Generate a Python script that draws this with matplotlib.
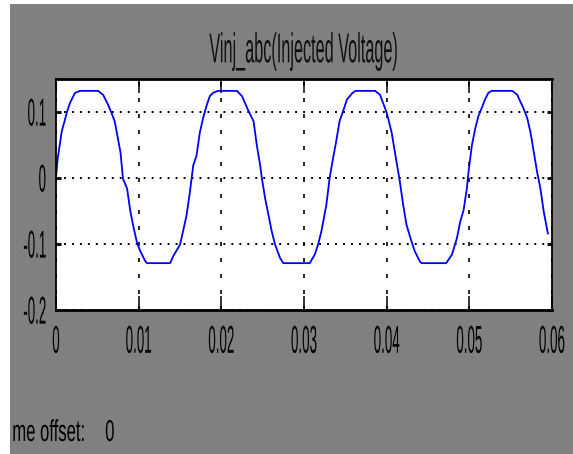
import matplotlib
matplotlib.use('Agg')
import matplotlib.pyplot as plt
from matplotlib import patheffects
from matplotlib.patches import Rectangle
from matplotlib.transforms import Affine2D

# Scope trace (time in s, voltage)
t = [0.0, 0.0002, 0.0007, 0.0011, 0.0013, 0.0017, 0.0023, 0.0029, 0.0051, 0.0057,
     0.0063, 0.0067, 0.0071, 0.0075, 0.0078, 0.0081, 0.0086, 0.0090, 0.0094, 0.0098,
     0.0102, 0.0108, 0.0110, 0.0138,
     0.0142, 0.0150, 0.0154, 0.0158, 0.0162, 0.0164, 0.0166, 0.0170, 0.0174, 0.0178,
     0.0182, 0.0186, 0.0190, 0.0196, 0.0219, 0.0225, 0.0233, 0.0239, 0.0243, 0.0247,
     0.0249, 0.0253, 0.0257, 0.0261, 0.0265, 0.0271, 0.0275, 0.0307,
     0.0313, 0.0317, 0.0321, 0.0327, 0.0331, 0.0335, 0.0339, 0.0343, 0.0348, 0.0352,
     0.0358, 0.0362, 0.0386, 0.0392, 0.0400, 0.0406, 0.0412, 0.0416, 0.0420, 0.0424,
     0.0430, 0.0434, 0.0440, 0.0442, 0.0472,
     0.0479, 0.0485, 0.0489, 0.0493, 0.0497, 0.0499, 0.0503, 0.0507, 0.0511, 0.0515,
     0.0519, 0.0523, 0.0527, 0.0552, 0.0558, 0.0566, 0.0570, 0.0574, 0.0578, 0.0582,
     0.0586, 0.0590, 0.0595]
v = [0.0, 0.029, 0.071, 0.089, 0.099, 0.114, 0.129, 0.132, 0.132, 0.126,
     0.111, 0.099, 0.086, 0.059, 0.039, -0.001, -0.016, -0.051, -0.076, -0.098,
     -0.111, -0.126, -0.129, -0.129,
     -0.118, -0.101, -0.079, -0.056, -0.021, -0.001, 0.019, 0.034, 0.069, 0.091,
     0.109, 0.124, 0.129, 0.132, 0.132, 0.124, 0.101, 0.086, 0.049, 0.019,
     0.0, -0.031, -0.056, -0.081, -0.101, -0.121, -0.129, -0.129,
     -0.116, -0.101, -0.081, -0.041, 0.0, 0.029, 0.056, 0.086, 0.104, 0.119,
     0.128, 0.132, 0.132, 0.126, 0.099, 0.069, 0.024, -0.006, -0.041, -0.071,
     -0.096, -0.111, -0.126, -0.129, -0.129,
     -0.116, -0.091, -0.066, -0.049, -0.016, 0.009, 0.049, 0.074, 0.094, 0.106,
     0.119, 0.129, 0.132, 0.132, 0.126, 0.104, 0.091, 0.069, 0.039, 0.009,
     -0.016, -0.051, -0.084]

xticks = [0, 0.01, 0.02, 0.03, 0.04, 0.05, 0.06]
xlabels = ['0', '0.01', '0.02', '0.03', '0.04', '0.05', '0.06']
yticks = [-0.2, -0.1, 0, 0.1]
ylabels = ['-0.2', '-0.1', '0', '0.1']
title = 'Vinj_abc(Injected Voltage)'
offset_label = 'me offset:'
offset_value = '0'

GRAY = '#808080'
plt.rcParams['font.family'] = ['Liberation Sans', 'DejaVu Sans']


class Stretch(patheffects.AbstractPathEffect):
    """Squeeze/stretch glyphs like the old screenshot (tall, narrow text)."""

    def __init__(self, sx=0.82, sy=2.0, hx='left', vy='baseline'):
        super().__init__()
        self.sx, self.sy, self.hx, self.vy = sx, sy, hx, vy

    def draw_path(self, renderer, gc, tpath, affine, rgbFace=None):
        ext = tpath.get_extents()
        x0 = {'left': ext.x0, 'center': (ext.x0 + ext.x1) / 2, 'right': ext.x1}[self.hx]
        y0 = {'baseline': 0.0, 'center': (ext.y0 + ext.y1) / 2, 'top': ext.y1}[self.vy]
        pre = Affine2D().translate(-x0, -y0).scale(self.sx, self.sy).translate(x0, y0)
        renderer.draw_path(gc, tpath, pre + affine, rgbFace)


fig = plt.figure(figsize=(5.73, 4.54), dpi=100, facecolor='white')
fig.add_artist(Rectangle((10 / 573, 0), 1, 1 - 4 / 454, transform=fig.transFigure,
                         facecolor=GRAY, edgecolor='none', zorder=-10))

ax = fig.add_axes([56 / 573, 1 - 310 / 454, 496 / 573, 231 / 454])
ax.set_facecolor('white')
ax.plot(t, v, color='#0000ff', lw=1.3)

ax.set_xlim(0, 0.06)
ax.set_ylim(-0.2, 0.15)
ax.set_xticks(xticks)
ax.set_xticklabels(xlabels)
ax.set_yticks(yticks)
ax.set_yticklabels(ylabels)

ax.tick_params(axis='x', direction='in', length=10, width=1.1, top=True,
               labelsize=13, pad=11, colors='black')
ax.tick_params(axis='y', direction='in', length=3.6, width=2, right=True,
               labelsize=13, pad=7, colors='black')

ax.xaxis.grid(True, color='black', linestyle=(0, (2.4, 7.2)), linewidth=1.2)
ax.yaxis.grid(True, color='black', linestyle=(0, (1.0, 3.1)), linewidth=1.4)

for side in ['top', 'bottom']:
    ax.spines[side].set_linewidth(2)
for side in ['left', 'right']:
    ax.spines[side].set_linewidth(1.3)

for lab in ax.get_xticklabels():
    lab.set_path_effects([Stretch(sx=0.74, sy=2.15, hx='center', vy='top')])
for lab in ax.get_yticklabels():
    lab.set_va('center_baseline')
    lab.set_path_effects([Stretch(sx=0.74, sy=2.15, hx='right', vy='center')])

ax.set_title(title, fontsize=15, color='#111111', pad=12,
             path_effects=[Stretch(sx=0.78, sy=2.0, hx='center', vy='baseline')])

fig.text(12 / 573, 1 - 441 / 454, offset_label, fontsize=15, color='black',
         va='baseline', path_effects=[Stretch(sx=0.8, sy=1.45)])
fig.text(105 / 573, 1 - 441 / 454, offset_value, fontsize=15, color='black',
         va='baseline', path_effects=[Stretch(sx=0.8, sy=1.45)])

plt.savefig('out.png', dpi=100, facecolor=fig.get_facecolor())
plt.close()
